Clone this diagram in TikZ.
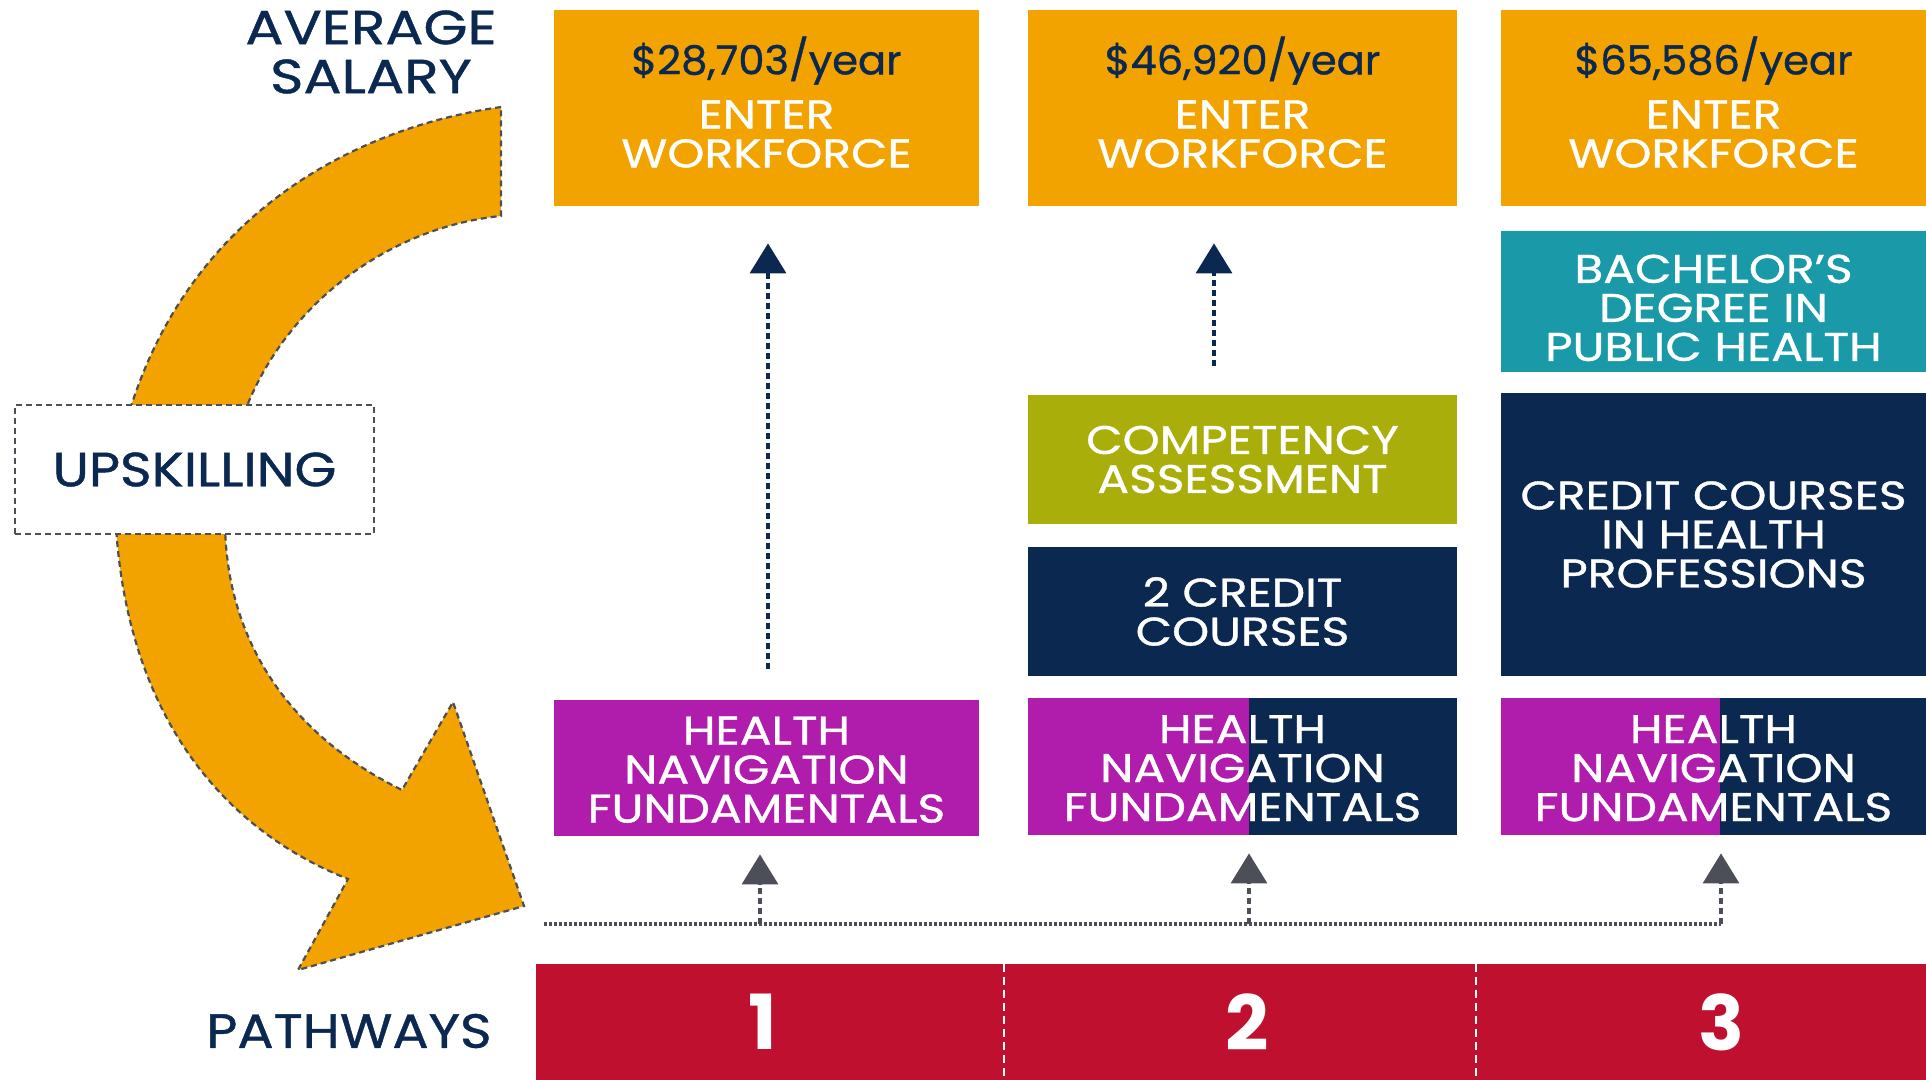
\documentclass[tikz,border=0pt]{standalone}
\usepackage{fontspec}
\setmainfont{Poppins}
\newfontfamily\gotham{Poppins}[FakeBold=0.9,FakeStretch=1.18]
\newfontfamily\gothamsal{Poppins}[FakeBold=0.9,FakeStretch=1.04]
\newfontfamily\gothamlab{Poppins}[FakeBold=0.9,FakeStretch=1.12]
\newfontfamily\gothamnum{Poppins}[FakeStretch=1.0]
\usepackage{tikz}
\usetikzlibrary{arrows.meta}

\definecolor{salorange}{HTML}{F2A300}
\definecolor{navyblue}{HTML}{0B2851}
\definecolor{navmagenta}{HTML}{B01CAB}
\definecolor{compolive}{HTML}{A9AE0A}
\definecolor{degteal}{HTML}{1A9AA8}
\definecolor{pathred}{HTML}{C0102F}
\definecolor{linegray}{HTML}{4C4F57}

\newcommand\boxfont{\gotham\fontsize{20}{19.5}\selectfont}
\newcommand\salfont{\gothamsal\fontsize{20}{19.5}\selectfont\color{navyblue}}
\newcommand\labfont{\gothamlab\fontsize{24}{24.5}\selectfont}

\tikzset{
  blockbox/.style={rectangle, inner sep=0pt, align=center, text=white, font=\boxfont},
  colA/.style={minimum width=212.5pt},
  colB/.style={minimum width=214.5pt},
  colC/.style={minimum width=212.5pt},
  navarrow/.style={navyblue, line width=1.8pt, dash pattern=on 3pt off 2pt, -{Triangle[width=18pt,length=15pt]}},
  grayarrow/.style={linegray, line width=1.6pt, dash pattern=on 3pt off 2pt, -{Triangle[width=18pt,length=15pt]}},
  dotline/.style={linegray, line width=1.6pt, dash pattern=on 1.5pt off 1pt},
  cutline/.style={draw=linegray, line width=1.1pt, dash pattern=on 3pt off 2pt},
  numtext/.style={text=white, font=\gothamnum\fontsize{38}{38}\selectfont\bfseries, inner sep=0pt},
  splitnav/.style={fill=navyblue, path picture={\fill[navmagenta] (path picture bounding box.south west) rectangle ([xshift=3pt]path picture bounding box.north);}}
}

\begin{document}
\begin{tikzpicture}[x=0.5pt,y=0.5pt,yscale=-1]
\useasboundingbox (0,0) rectangle (1926,1080);

%Shape: Curved Arrow
\draw[cutline, fill=salorange] (501,107) .. controls (340,130) and (160,230) .. (115,470) .. controls (110,680) and (200,820) .. (348,879) -- (298,970) -- (524,906) -- (453,702) -- (402,790) .. controls (300,740) and (225,650) .. (225,520) .. controls (225,350) and (360,230) .. (501,216) -- cycle ;

% Text Node
\node[cutline, fill=white, minimum width=179.5pt, minimum height=64.5pt, inner sep=0pt, text=navyblue, font=\labfont] (upskill) at (194.5,469.5) {UPSKILLING};
% Text Node
\node[anchor=east, align=center, inner sep=0pt, text=navyblue, font=\labfont\gotham] (avgsal) at (497,52) {AVERAGE\\SALARY};
% Text Node
\node[anchor=east, inner sep=0pt, text=navyblue, font=\labfont] (pathlab) at (492,1031) {PATHWAYS};

%Shape: Salary boxes
\node[blockbox, colA, fill=salorange, minimum height=98pt] (sal1) at (766.5,108) {{\salfont\$28,703/year}\\[7.5pt]ENTER\\WORKFORCE\\[-13.5pt]};
\node[blockbox, colB, fill=salorange, minimum height=98pt] (sal2) at (1242.5,108) {{\salfont\$46,920/year}\\[7.5pt]ENTER\\WORKFORCE\\[-13.5pt]};
\node[blockbox, colC, fill=salorange, minimum height=98pt] (sal3) at (1713.5,108) {{\salfont\$65,586/year}\\[7.5pt]ENTER\\WORKFORCE\\[-13.5pt]};

%Shape: Pathway 2 and 3 steps
\node[blockbox, colC, fill=degteal, minimum height=70.5pt] (bach) at (1713.5,301.5) {\mbox{}\\[1pt]BACHELOR’S\\DEGREE IN\\PUBLIC HEALTH};
\node[blockbox, colB, fill=compolive, minimum height=64.5pt] (comp) at (1242.5,459.5) {COMPETENCY\\ASSESSMENT};
\node[blockbox, colB, fill=navyblue, minimum height=64.5pt] (credtwo) at (1242.5,611.5) {2 CREDIT\\COURSES};
\node[blockbox, colC, fill=navyblue, minimum height=141.5pt] (credhp) at (1713.5,534.5) {CREDIT COURSES\\IN HEALTH\\PROFESSIONS};

%Shape: Fundamentals boxes
\node[blockbox, colA, fill=navmagenta, minimum height=68pt] (hnf1) at (766.5,768) {\mbox{}\\[-3.8pt]HEALTH\\NAVIGATION\\FUNDAMENTALS};
\node[blockbox, colB, splitnav, minimum height=68.5pt] (hnf2) at (1242.5,766.5) {\mbox{}\\[-3.8pt]HEALTH\\NAVIGATION\\FUNDAMENTALS};
\node[blockbox, colC, splitnav, minimum height=68.5pt] (hnf3) at (1713.5,766.5) {\mbox{}\\[-3.8pt]HEALTH\\NAVIGATION\\FUNDAMENTALS};

%Shape: Pathways bar
\node[rectangle, fill=pathred, minimum width=695pt, minimum height=58pt, inner sep=0pt] (bar) at (1231,1022) {};
\coordinate (d1) at (1004,0);
\coordinate (d2) at (1476,0);
\draw[white, line width=1pt, dash pattern=on 4pt off 2.5pt] (bar.north -| d1) -- (bar.south -| d1);
\draw[white, line width=1pt, dash pattern=on 4pt off 2.5pt] (bar.north -| d2) -- (bar.south -| d2);
% Text Node
\node[numtext] (num1) at (763,1022) {1};
\node[numtext] (num2) at (1247,1022) {2};
\node[numtext] (num3) at (1721,1022) {3};

%Straight Lines: up to workforce
\coordinate (a1) at (768,0);
\coordinate (a2) at (1214,0);
\draw[navarrow, shorten <=15.5pt, shorten >=18.5pt] (hnf1.north -| a1) -- (sal1.south -| a1);
\draw[navarrow, shorten <=14.5pt, shorten >=18.5pt] (comp.north -| a2) -- (sal2.south -| a2);

%Straight Lines: pathways feed
\coordinate (hl) at (544,924);
\coordinate (j1) at (760,924);
\coordinate (j2) at (1249,924);
\coordinate (j3) at (1721,924);
\draw[dotline] (hl) -- (j3);
\draw[grayarrow, shorten >=9pt] (j1) -- (hnf1.south -| j1);
\draw[grayarrow, shorten >=9pt] (j2) -- (hnf2.south -| j2);
\draw[grayarrow, shorten >=9pt] (j3) -- (hnf3.south -| j3);
\end{tikzpicture}
\end{document}
